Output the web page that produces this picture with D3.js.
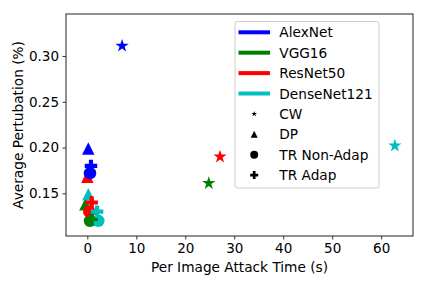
<!DOCTYPE html>
<html><head><meta charset="utf-8">
<script src="https://cdn.jsdelivr.net/npm/d3@7"></script>
<style>body{margin:0;background:#fff}svg{display:block}text{font-family:"DejaVu Sans",sans-serif;fill:#000}</style>
</head><body><svg id="c" width="428" height="286"></svg>
<script>
const models = ["AlexNet","VGG16","ResNet50","DenseNet121"];
const modelColors = ["#0000ff","#008000","#ff0000","#00bfbf"];
const attacks = ["CW","DP","TR Non-Adap","TR Adap"];
// time (s) per [attack][model]
const timeCW = [7.1, 24.8, 27.1, 62.8];
const pertCW = [0.311, 0.161, 0.190, 0.202];
const timeDP = [0.2, -0.4, 0.0, 0.2];
const pertDP = [0.199, 0.138, 0.168, 0.149];
const timeTRN = [0.55, 0.55, 0.4, 2.25];
const pertTRN = [0.172, 0.120, 0.130, 0.120];
const timeTRA = [0.75, 0.9, 0.9, 2.0];
const pertTRA = [0.180, 0.122, 0.140, 0.130];
const xTicks = [0,10,20,30,40,50,60];
const yTicks = [0.15,0.20,0.25,0.30];

const times = [timeCW,timeDP,timeTRN,timeTRA];
const perts = [pertCW,pertDP,pertTRN,pertTRA];

const L=66,R=413,T=14,B=236;
const x = d3.scaleLinear().domain([-4.35,66.5]).range([L,R]);
const y = d3.scaleLinear().domain([0.1034,0.3459]).range([B,T]);
const svg = d3.select("#c");

function markerPath(kind, ms){
  const h=ms/2;
  if(kind==="CW"){
    const pts=[];
    for(let i=0;i<10;i++){const r=i%2?h*0.381966:h;const a=-Math.PI/2+i*Math.PI/5;pts.push([r*Math.cos(a),r*Math.sin(a)]);}
    return "M"+pts.map(p=>p.join(",")).join("L")+"Z";
  }
  if(kind==="DP") return `M0,${-h}L${-h},${h}L${h},${h}Z`;
  if(kind==="TR Non-Adap") return `M${h},0A${h},${h} 0 1,1 ${-h},0A${h},${h} 0 1,1 ${h},0Z`;
  const a=ms/6;
  return `M${-a},${-h}L${a},${-h}L${a},${-a}L${h},${-a}L${h},${a}L${a},${a}L${a},${h}L${-a},${h}L${-a},${a}L${-h},${a}L${-h},${-a}L${-a},${-a}Z`;
}
const markerSize = {"CW":14,"DP":12.5,"TR Non-Adap":12.5,"TR Adap":12.5};

const gAx = svg.append("g");
gAx.append("g").attr("transform",`translate(0,${B})`)
  .call(d3.axisBottom(x).tickValues(xTicks).tickSize(3.5).tickPadding(3.5).tickFormat(d3.format("d")))
  .call(g=>{g.select(".domain").remove();g.selectAll("text").attr("font-size","13.5px").attr("font-family","DejaVu Sans");g.selectAll("line").attr("stroke","#000").attr("stroke-width",0.8);});
gAx.append("g").attr("transform",`translate(${L},0)`)
  .call(d3.axisLeft(y).tickValues(yTicks).tickSize(3.5).tickPadding(3.5).tickFormat(d3.format(".2f")))
  .call(g=>{g.select(".domain").remove();g.selectAll("text").attr("font-size","13.5px").attr("font-family","DejaVu Sans");g.selectAll("line").attr("stroke","#000").attr("stroke-width",0.8);});

const gp = svg.append("g");
attacks.forEach((atk,ai)=>{
  models.forEach((m,mi)=>{
    gp.append("path").attr("d",markerPath(atk,markerSize[atk]))
      .attr("transform",`translate(${x(times[ai][mi])},${y(perts[ai][mi])})`)
      .attr("fill",modelColors[mi]);
  });
});

svg.append("rect").attr("x",L).attr("y",T).attr("width",R-L).attr("height",B-T)
  .attr("fill","none").attr("stroke","#222").attr("stroke-width",1);

svg.append("text").attr("x",(L+R)/2).attr("y",272).attr("text-anchor","middle").attr("font-size","13.7px").text("Per Image Attack Time (s)");
svg.append("text").attr("transform",`translate(18,${(T+B)/2}) rotate(-90)`).attr("text-anchor","middle").attr("dominant-baseline","central").attr("font-size","13.7px").text("Average Pertubation (%)");

// legend
const lg = svg.append("g");
lg.append("rect").attr("x",235).attr("y",21.5).attr("width",144).attr("height",166.5).attr("rx",2.5)
  .attr("fill","#fff").attr("fill-opacity",0.8).attr("stroke","#cccccc").attr("stroke-width",1);
const rowY = i=>32.3+i*20.4;
models.forEach((m,i)=>{
  lg.append("line").attr("x1",238.5).attr("x2",270).attr("y1",rowY(i)).attr("y2",rowY(i)).attr("stroke",modelColors[i]).attr("stroke-width",4);
  lg.append("text").attr("x",279.3).attr("y",rowY(i)).attr("dominant-baseline","central").attr("font-size","13.7px").text(m);
});
const legSizes=[6,7,8,8];
attacks.forEach((a,i)=>{
  const yy=rowY(i+4);
  lg.append("path").attr("d",markerPath(a,legSizes[i])).attr("transform",`translate(254.2,${yy})`).attr("fill","#000");
  lg.append("text").attr("x",279.3).attr("y",yy).attr("dominant-baseline","central").attr("font-size","13.7px").text(a);
});
</script></body></html>
